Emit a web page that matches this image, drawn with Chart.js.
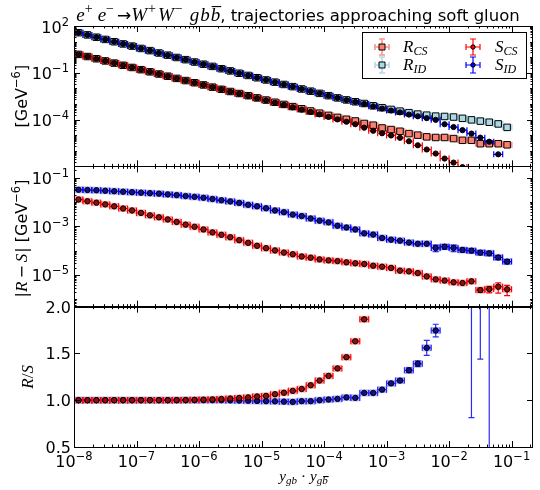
<!DOCTYPE html>
<html>
<head>
<meta charset="utf-8">
<script src="https://cdn.jsdelivr.net/npm/chart.js@4.4.0/dist/chart.umd.min.js"></script>
<style>
  html, body { margin: 0; padding: 0; background: #fff; }
</style>
</head>
<body>
<canvas id="chart" width="540" height="490"></canvas>
<script>
// y_gb * y_gbbar bins, 7 per decade
const binCenters = [
  1.18e-8, 1.64e-8, 2.28e-8, 3.16e-8, 4.39e-8, 6.11e-8, 8.48e-8,
  1.18e-7, 1.64e-7, 2.28e-7, 3.16e-7, 4.39e-7, 6.11e-7, 8.48e-7,
  1.18e-6, 1.64e-6, 2.28e-6, 3.16e-6, 4.39e-6, 6.11e-6, 8.48e-6,
  1.18e-5, 1.64e-5, 2.28e-5, 3.16e-5, 4.39e-5, 6.11e-5, 8.48e-5,
  1.18e-4, 1.64e-4, 2.28e-4, 3.16e-4, 4.39e-4, 6.11e-4, 8.48e-4,
  1.18e-3, 1.64e-3, 2.28e-3, 3.16e-3, 4.39e-3, 6.11e-3, 8.48e-3,
  1.18e-2, 1.64e-2, 2.28e-2, 3.16e-2, 4.39e-2, 6.11e-2, 8.48e-2
];
const binEdges = [
  1.00e-8, 1.39e-8, 1.93e-8, 2.68e-8, 3.73e-8, 5.18e-8, 7.20e-8,
  1.00e-7, 1.39e-7, 1.93e-7, 2.68e-7, 3.73e-7, 5.18e-7, 7.20e-7,
  1.00e-6, 1.39e-6, 1.93e-6, 2.68e-6, 3.73e-6, 5.18e-6, 7.20e-6,
  1.00e-5, 1.39e-5, 1.93e-5, 2.68e-5, 3.73e-5, 5.18e-5, 7.20e-5,
  1.00e-4, 1.39e-4, 1.93e-4, 2.68e-4, 3.73e-4, 5.18e-4, 7.20e-4,
  1.00e-3, 1.39e-3, 1.93e-3, 2.68e-3, 3.73e-3, 5.18e-3, 7.20e-3,
  1.00e-2, 1.39e-2, 1.93e-2, 2.68e-2, 3.73e-2, 5.18e-2, 7.20e-2,
  1.00e-1
];

// top panel: real (R) and subtracted (S) matrix elements [GeV^-6]
const rCsXsec = [
  1.51, 1.10, 0.794, 0.575, 0.417, 0.302, 0.219,
  0.158, 0.115, 0.0832, 0.0603, 0.0437, 0.0316, 0.0229,
  0.0166, 0.0120, 8.71e-3, 6.31e-3, 4.68e-3, 3.39e-3, 2.45e-3,
  1.78e-3, 1.29e-3, 9.33e-4, 6.76e-4, 4.90e-4, 3.55e-4, 2.57e-4,
  1.86e-4, 1.38e-4, 1.05e-4, 8.13e-5, 5.62e-5, 4.37e-5, 2.88e-5,
  2.29e-5, 1.78e-5, 1.26e-5, 1.00e-5, 7.76e-6, 7.08e-6, 7.08e-6,
  6.03e-6, 4.68e-6, 4.68e-6, 2.82e-6, 2.82e-6, 2.82e-6, 2.40e-6
];
const sCsXsec = [
  1.51, 1.10, 0.794, 0.575, 0.417, 0.302, 0.219,
  0.158, 0.115, 0.0832, 0.0603, 0.0437, 0.0316, 0.0229,
  0.0166, 0.0120, 8.71e-3, 6.17e-3, 4.57e-3, 3.31e-3, 2.34e-3,
  1.70e-3, 1.20e-3, 8.71e-4, 6.17e-4, 4.37e-4, 3.09e-4, 2.14e-4,
  1.48e-4, 1.02e-4, 7.24e-5, 5.01e-5, 3.02e-5, 1.91e-5, 1.32e-5,
  9.55e-6, 6.76e-6, 4.07e-6, 2.24e-6, 1.20e-6, 6.61e-7, 3.16e-7,
  1.74e-7, 8.91e-8, null, null, null, null, null
];
const rIdXsec = [
  37.2, 26.9, 19.1, 13.8, 9.77, 7.08, 5.13,
  3.63, 2.63, 1.86, 1.35, 0.955, 0.692, 0.490,
  0.355, 0.257, 0.182, 0.132, 0.0933, 0.0676, 0.0479,
  0.0347, 0.0251, 0.0178, 0.0129, 9.12e-3, 6.61e-3, 4.79e-3,
  3.39e-3, 2.45e-3, 1.82e-3, 1.38e-3, 1.07e-3, 7.59e-4, 5.75e-4,
  4.47e-4, 3.47e-4, 2.75e-4, 2.24e-4, 1.91e-4, 1.66e-4, 1.58e-4,
  1.45e-4, 1.20e-4, 9.55e-5, 7.94e-5, 6.76e-5, 5.25e-5, 3.16e-5
];
const sIdXsec = [
  37.2, 26.9, 19.1, 13.8, 9.77, 7.08, 5.13,
  3.63, 2.63, 1.86, 1.35, 0.955, 0.692, 0.490,
  0.355, 0.257, 0.182, 0.132, 0.0933, 0.0676, 0.0479,
  0.0347, 0.0251, 0.0178, 0.0129, 9.12e-3, 6.61e-3, 4.79e-3,
  3.39e-3, 2.45e-3, 1.78e-3, 1.35e-3, 1.00e-3, 7.08e-4, 5.13e-4,
  3.80e-4, 2.88e-4, 2.09e-4, 1.62e-4, 1.23e-4, 9.55e-5, 5.01e-5,
  3.31e-5, 2.09e-5, 1.26e-5, 6.92e-6, 3.80e-6, 5.89e-7, null
];

// middle panel: |R - S| [GeV^-6]
const diffCs = [
  1.26e-2, 1.07e-2, 9.33e-3, 7.94e-3, 6.61e-3, 5.37e-3, 4.47e-3,
  3.55e-3, 2.82e-3, 2.34e-3, 1.91e-3, 1.51e-3, 1.17e-3, 9.55e-4,
  7.41e-4, 5.62e-4, 4.47e-4, 3.55e-4, 2.69e-4, 2.09e-4, 1.58e-4,
  1.26e-4, 1.02e-4, 8.32e-5, 7.08e-5, 5.75e-5, 5.13e-5, 4.37e-5,
  3.98e-5, 3.72e-5, 3.31e-5, 3.02e-5, 2.82e-5, 2.40e-5, 2.19e-5,
  1.95e-5, 1.51e-5, 1.41e-5, 1.20e-5, 8.71e-6, 6.61e-6, 5.89e-6,
  5.01e-6, 4.68e-6, 5.50e-6, 2.40e-6, 2.63e-6, 3.31e-6, 2.57e-6
];
const diffCsErr = [
  0, 0, 0, 0, 0, 0, 0,
  0, 0, 0, 0, 0, 0, 0,
  0, 0, 0, 0, 0, 0, 0,
  0, 0, 0, 0, 0, 0, 0,
  0, 0, 0, 0, 0, 0, 0,
  0, 0, 0, 0, 0, 0, 0,
  0, 0, 0, 0.48e-6, 0.8e-6, 1.5e-6, 1.15e-6
];
const diffId = [
  3.16e-2, 3.09e-2, 3.02e-2, 2.88e-2, 2.75e-2, 2.63e-2, 2.51e-2,
  2.40e-2, 2.29e-2, 2.19e-2, 2.04e-2, 1.91e-2, 1.74e-2, 1.62e-2,
  1.48e-2, 1.32e-2, 1.17e-2, 1.05e-2, 9.12e-3, 7.59e-3, 6.61e-3,
  5.50e-3, 4.47e-3, 3.80e-3, 3.02e-3, 2.63e-3, 2.09e-3, 1.70e-3,
  1.45e-3, 1.05e-3, 8.91e-4, 7.41e-4, 5.13e-4, 4.57e-4, 3.31e-4,
  2.82e-4, 2.57e-4, 2.14e-4, 1.91e-4, 1.91e-4, 1.29e-4, 1.45e-4,
  1.29e-4, 1.07e-4, 1.00e-4, 8.32e-5, 7.76e-5, 5.25e-5, 3.55e-5
];
const diffIdErr = [
  0, 0, 0, 0, 0, 0, 0,
  0, 0, 0, 0, 0, 0, 0,
  0, 0, 0, 0, 0, 0, 0,
  0, 0, 0, 0, 0, 0, 0,
  0, 0, 0, 0, 0, 0, 0,
  0, 0, 0, 0, 0, 3.9e-5, 3.0e-5,
  3.9e-5, 2.0e-5, 2.0e-5, 1.6e-5, 1.6e-5, 1.0e-5, 0.7e-5
];

// bottom panel: R / S
const ratioCs = [
  1.000, 1.000, 1.000, 1.000, 1.000, 1.000, 1.000,
  1.000, 1.000, 1.000, 1.000, 1.001, 1.002, 1.004,
  1.006, 1.009, 1.013, 1.018, 1.024, 1.030, 1.040,
  1.046, 1.064, 1.080, 1.100, 1.120, 1.160, 1.210,
  1.260, 1.340, 1.460, 1.630, 1.865, null, null,
  null, null, null, null, null, null, null,
  null, null, null, null, null, null, null
];
const ratioCsErr = [
  0, 0, 0, 0, 0, 0, 0,
  0, 0, 0, 0, 0, 0, 0,
  0, 0, 0, 0, 0, 0, 0,
  0, 0, 0, 0, 0, 0, 0,
  0.005, 0.006, 0.008, 0.012, 0.018, 0, 0,
  0, 0, 0, 0, 0, 0, 0,
  0, 0, 0, 0, 0, 0, 0
];
const ratioId = [
  1.000, 1.000, 1.000, 1.000, 1.000, 1.000, 1.000,
  1.000, 1.000, 1.000, 1.000, 1.000, 1.000, 1.000,
  1.000, 1.000, 1.000, 0.998, 0.996, 0.994, 0.992,
  0.990, 0.988, 0.985, 0.982, 0.990, 0.990, 1.000,
  1.007, 1.014, 1.030, 1.025, 1.078, 1.078, 1.113,
  1.180, 1.210, 1.320, 1.390, 1.560, 1.745, null,
  null, null, 3.0, 2.6, 3.0, null, null
];
const ratioIdErr = [
  0, 0, 0, 0, 0, 0, 0,
  0, 0, 0, 0, 0, 0, 0,
  0, 0, 0, 0, 0, 0, 0,
  0, 0, 0, 0, 0, 0, 0,
  0, 0, 0, 0, 0, 0, 0,
  0.015, 0.018, 0.025, 0.03, 0.08, 0.067, 0,
  0, 0, 2.185, 1.16, 3.0, 0, 0
];

// tick labels
const xTickExps = [-8, -7, -6, -5, -4, -3, -2, -1];
const xsecTickExps = [2, -1, -4];
const diffTickExps = [-1, -3, -5];
const ratioTicks = ['0.5', '1.0', '1.5', '2.0'];

const SANS = '"DejaVu Sans", sans-serif';
const SERIF = '"Liberation Serif", serif';

function points(values) {
  return values.map((v, i) => ({ x: binCenters[i], y: v }));
}

function series(label, sub, values, yAxisID, style) {
  return Object.assign({
    label: label,
    legendSub: sub,
    data: points(values),
    yAxisID: yAxisID,
    pointStyle: 'circle',
    pointRadius: 2.6,
    pointBorderColor: '#000',
    pointBorderWidth: 1,
    pointHoverRadius: 0
  }, style);
}

const datasets = [
  series('S', 'CS', sCsXsec, 'yXsec', { pointBackgroundColor: '#2a0000', legendFace: '#ff0000', barColor: '#ff0000', barWidth: 1.2, legendCol: 1, legendRow: 0 }),
  series('S', 'ID', sIdXsec, 'yXsec', { pointBackgroundColor: '#00002a', legendFace: '#0000ff', barColor: '#0000ff', barWidth: 1.2, legendCol: 1, legendRow: 1 }),
  series('R', 'CS', rCsXsec, 'yXsec', { pointStyle: 'rect', pointRadius: 4.6, pointBackgroundColor: '#fa8072', barColor: 'rgba(250,128,114,0.85)', barWidth: 2, legendCol: 0, legendRow: 0 }),
  series('R', 'ID', rIdXsec, 'yXsec', { pointStyle: 'rect', pointRadius: 4.6, pointBackgroundColor: '#add8e6', barColor: 'rgba(173,216,230,0.95)', barWidth: 2, legendCol: 0, legendRow: 1 }),
  series('|R-S|', 'CS', diffCs, 'yDiff', { pointRadius: 2.7, pointBackgroundColor: '#8a1010', barColor: '#ff0000', barWidth: 1.2, boxColor: 'rgba(255,70,70,0.45)', yErr: diffCsErr }),
  series('|R-S|', 'ID', diffId, 'yDiff', { pointRadius: 2.7, pointBackgroundColor: '#10108a', barColor: '#0000ff', barWidth: 1.2, boxColor: 'rgba(80,80,255,0.45)', yErr: diffIdErr }),
  series('R/S', 'CS', ratioCs, 'yRatio', { pointRadius: 2.7, pointBackgroundColor: '#8a1010', barColor: '#ff0000', barWidth: 1.2, boxColor: 'rgba(255,70,70,0.45)', yErr: ratioCsErr }),
  series('R/S', 'ID', ratioId, 'yRatio', { pointRadius: 2.7, pointBackgroundColor: '#10108a', barColor: '#2a2aff', barWidth: 1.2, boxColor: 'rgba(80,80,255,0.45)', yErr: ratioIdErr })
];

// text with super/subscripts, drawn piece by piece
function richWidth(ctx, parts) {
  let w = 0;
  parts.forEach(p => { ctx.font = p.font; w += ctx.measureText(p.t).width + (p.gap || 0); });
  return w;
}
function drawRich(ctx, parts, x, y) {
  let cx = x;
  parts.forEach(p => {
    ctx.font = p.font;
    const w = ctx.measureText(p.t).width;
    ctx.fillText(p.t, cx, y + (p.dy || 0));
    if (p.bar) {
      ctx.fillRect(cx + 1, y + (p.dy || 0) - p.bar, w, 1.1);
    }
    cx += w + (p.gap || 0);
  });
}
function powParts(exp) {
  return [
    { t: '10', font: '16px ' + SANS },
    { t: exp < 0 ? '\u2212' + (-exp) : String(exp), font: '11.5px ' + SANS, dy: -7 }
  ];
}

// error bars: horizontal bar over the bin, vertical bar for the error
const errorBars = {
  id: 'errorBars',
  beforeDatasetsDraw(chart) {
    const ctx = chart.ctx;
    for (let di = chart.data.datasets.length - 1; di >= 0; di--) {
      const ds = chart.data.datasets[di];
      const meta = chart.getDatasetMeta(di);
      const xs = meta.xScale, ys = meta.yScale;
      ctx.save();
      ctx.beginPath();
      ctx.rect(xs.left, ys.top, xs.right - xs.left, ys.bottom - ys.top);
      ctx.clip();
      ds.data.forEach((pt, i) => {
        if (pt.y === null) return;
        const x0 = xs.getPixelForValue(binEdges[i]);
        const x1 = xs.getPixelForValue(binEdges[i + 1]);
        const xc = xs.getPixelForValue(pt.x);
        const yc = ys.getPixelForValue(pt.y);
        const e = ds.yErr ? ds.yErr[i] : 0;
        const yHi = ys.getPixelForValue(pt.y + e);
        const yLo = pt.y - e > 0 ? ys.getPixelForValue(pt.y - e) : ys.bottom + 20;
        if (ds.boxColor) {
          ctx.fillStyle = ds.boxColor;
          ctx.fillRect(x0, yc - 3.5, x1 - x0, 7);
        }
        ctx.strokeStyle = ds.barColor;
        ctx.lineWidth = ds.barWidth;
        ctx.beginPath();
        ctx.moveTo(x0, yc); ctx.lineTo(x1, yc);
        ctx.moveTo(x0, yc - 3); ctx.lineTo(x0, yc + 3);
        ctx.moveTo(x1, yc - 3); ctx.lineTo(x1, yc + 3);
        if (e > 0) {
          ctx.moveTo(xc, yHi); ctx.lineTo(xc, yLo);
          ctx.moveTo(xc - 3, yHi); ctx.lineTo(xc + 3, yHi);
          ctx.moveTo(xc - 3, yLo); ctx.lineTo(xc + 3, yLo);
        }
        ctx.stroke();
      });
      ctx.restore();
    }
  }
};

function logTickList(scale, majors) {
  const list = [];
  const lo = Math.floor(Math.log10(scale.min)), hi = Math.ceil(Math.log10(scale.max));
  for (let d = lo; d <= hi; d++) {
    list.push({ v: Math.pow(10, d), len: majors.includes(d) ? 6 : 3 });
    for (let m = 2; m <= 9; m++) list.push({ v: m * Math.pow(10, d), len: 2.5 });
  }
  return list.filter(t => t.v >= scale.min * 0.999 && t.v <= scale.max * 1.001);
}

// frames, inward ticks, tick labels, titles and legend
const axesDecor = {
  id: 'axesDecor',
  afterDraw(chart) {
    const ctx = chart.ctx;
    const xs = chart.scales.x;
    const L = xs.left, R = xs.right;
    const xTicks = logTickList(xs, xTickExps);
    const panels = [
      { scale: chart.scales.yXsec, ticks: logTickList(chart.scales.yXsec, xsecTickExps.concat([-7])) },
      { scale: chart.scales.yDiff, ticks: logTickList(chart.scales.yDiff, diffTickExps) },
      { scale: chart.scales.yRatio, ticks: ratioTicks.map(t => ({ v: parseFloat(t), len: 6 })) }
    ];
    ctx.save();
    ctx.strokeStyle = '#000';
    ctx.fillStyle = '#000';
    ctx.lineWidth = 1;
    panels.forEach(p => {
      const ys = p.scale;
      const T = ys.top, B = ys.bottom;
      ctx.strokeRect(Math.round(L) + 0.5, Math.round(T) + 0.5, Math.round(R - L) - 1, Math.round(B - T));
      ctx.beginPath();
      xTicks.forEach(t => {
        const px = Math.round(xs.getPixelForValue(t.v)) + 0.5;
        if (px < L || px > R) return;
        ctx.moveTo(px, B); ctx.lineTo(px, B - t.len);
        ctx.moveTo(px, T); ctx.lineTo(px, T + t.len);
      });
      p.ticks.forEach(t => {
        const py = Math.round(ys.getPixelForValue(t.v)) + 0.5;
        if (py < T - 0.5 || py > B + 1) return;
        ctx.moveTo(L, py); ctx.lineTo(L + t.len, py);
        ctx.moveTo(R, py); ctx.lineTo(R - t.len, py);
      });
      ctx.stroke();
    });

    // y tick labels
    ctx.textAlign = 'left';
    ctx.textBaseline = 'alphabetic';
    const yPow = (scale, exps) => exps.forEach(d => {
      const parts = powParts(d);
      const w = richWidth(ctx, parts);
      drawRich(ctx, parts, 69 - w, scale.getPixelForValue(Math.pow(10, d)) + 6.5);
    });
    yPow(chart.scales.yXsec, xsecTickExps);
    yPow(chart.scales.yDiff, diffTickExps);
    ctx.font = '16px ' + SANS;
    ratioTicks.forEach(t => {
      const w = ctx.measureText(t).width;
      ctx.fillText(t, 71 - w, chart.scales.yRatio.getPixelForValue(parseFloat(t)) + 6);
    });

    // x tick labels
    xTickExps.forEach(d => {
      const parts = powParts(d);
      const w = richWidth(ctx, parts);
      drawRich(ctx, parts, xs.getPixelForValue(Math.pow(10, d)) - w / 2, 467);
    });

    // axis titles
    const M = sz => 'italic ' + sz + 'px ' + SERIF;
    const gev = [
      { t: '[GeV', font: '16px ' + SANS },
      { t: '\u22126', font: '11.5px ' + SANS, dy: -7 },
      { t: ']', font: '16px ' + SANS }
    ];
    const vText = (parts, bx, cy) => {
      ctx.save();
      ctx.translate(bx, cy);
      ctx.rotate(-Math.PI / 2);
      drawRich(ctx, parts, -richWidth(ctx, parts) / 2, 0);
      ctx.restore();
    };
    const yX = chart.scales.yXsec, yD = chart.scales.yDiff, yR = chart.scales.yRatio;
    vText(gev, 27, (yX.top + yX.bottom) / 2);
    vText([
      { t: '|', font: '16px ' + SANS },
      { t: 'R', font: M(17), gap: 3 },
      { t: '\u2212', font: '16px ' + SANS, gap: 3 },
      { t: 'S', font: M(17), gap: 1 },
      { t: '| ', font: '16px ' + SANS }
    ].concat(gev), 27, (yD.top + yD.bottom) / 2 + 2);
    vText([
      { t: 'R', font: M(17) },
      { t: '/', font: '17px ' + SERIF },
      { t: 'S', font: M(17) }
    ], 33, (yR.top + yR.bottom) / 2);

    const xlab = [
      { t: 'y', font: M(15) },
      { t: 'gb', font: M(11), dy: 3, gap: 4 },
      { t: '\u00b7', font: '15px ' + SERIF, gap: 4 },
      { t: 'y', font: M(15) },
      { t: 'g', font: M(11), dy: 3 },
      { t: 'b', font: M(11), dy: 3, bar: 8 }
    ];
    drawRich(ctx, xlab, (L + R) / 2 - richWidth(ctx, xlab) / 2, 481);

    // title
    const sup = { font: '14px ' + SERIF, dy: -8 };
    const title = [
      { t: 'e', font: M(19) },
      Object.assign({ t: '+', gap: 5 }, sup),
      { t: 'e', font: M(19) },
      Object.assign({ t: '\u2212', gap: 3 }, sup),
      { t: '\u2192', font: '17px ' + SANS },
      { t: 'W', font: M(19), gap: 1 },
      Object.assign({ t: '+', gap: 2 }, sup),
      { t: 'W', font: M(19), gap: 1 },
      Object.assign({ t: '\u2212', gap: 7 }, sup),
      { t: 'g', font: M(19), gap: 1 },
      { t: 'b', font: M(19), gap: 1 },
      { t: 'b', font: M(19), bar: 15 },
      { t: ', trajectories approaching soft gluon', font: '16.5px ' + SANS }
    ];
    drawRich(ctx, title, 298 - richWidth(ctx, title) / 2, 21);

    // legend
    const bx = 362.5, by = 32.5, bw = 164, bh = 46;
    ctx.fillStyle = '#fff';
    ctx.fillRect(bx, by, bw, bh);
    ctx.strokeStyle = '#000';
    ctx.strokeRect(bx, by, bw, bh);
    chart.data.datasets.forEach(ds => {
      if (ds.legendCol === undefined) return;
      const mx = ds.legendCol ? 473 : 382;
      const my = ds.legendRow ? 65 : 47;
      ctx.strokeStyle = ds.barColor;
      ctx.lineWidth = ds.legendCol ? 1.2 : 1.6;
      ctx.beginPath();
      ctx.moveTo(mx - 7, my); ctx.lineTo(mx + 7, my);
      ctx.moveTo(mx - 7, my - 3); ctx.lineTo(mx - 7, my + 3);
      ctx.moveTo(mx + 7, my - 3); ctx.lineTo(mx + 7, my + 3);
      ctx.moveTo(mx, my - 8); ctx.lineTo(mx, my + 8);
      ctx.moveTo(mx - 3, my - 8); ctx.lineTo(mx + 3, my - 8);
      ctx.moveTo(mx - 3, my + 8); ctx.lineTo(mx + 3, my + 8);
      ctx.stroke();
      ctx.lineWidth = 1;
      ctx.strokeStyle = '#000';
      ctx.fillStyle = ds.legendFace || ds.pointBackgroundColor;
      ctx.beginPath();
      if (ds.pointStyle === 'rect') {
        ctx.rect(mx - 3, my - 3, 6, 6);
      } else {
        ctx.arc(mx, my, 2.2, 0, 2 * Math.PI);
      }
      ctx.fill();
      ctx.stroke();
      ctx.fillStyle = '#000';
      drawRich(ctx, [
        { t: ds.label, font: M(17) },
        { t: ds.legendSub, font: M(12), dy: 3 }
      ], ds.legendCol ? 495 : 403, my + 5);
    });
    ctx.restore();
  }
};

new Chart(document.getElementById('chart').getContext('2d'), {
  type: 'scatter',
  data: { datasets: datasets },
  options: {
    responsive: false,
    animation: false,
    events: [],
    layout: { padding: { left: 74, right: 7, top: 26, bottom: 43 } },
    plugins: {
      legend: { display: false },
      tooltip: { enabled: false },
      title: { display: false }
    },
    scales: {
      x: { type: 'logarithmic', min: 1e-8, max: 0.22, display: false },
      yRatio: { type: 'linear', min: 0.5, max: 2.0, display: false, position: 'left', stack: 'panels', stackWeight: 1 },
      yDiff: { type: 'logarithmic', min: 5e-7, max: 0.29, display: false, position: 'left', stack: 'panels', stackWeight: 1 },
      yXsec: { type: 'logarithmic', min: 1e-7, max: 100, display: false, position: 'left', stack: 'panels', stackWeight: 1 }
    }
  },
  plugins: [errorBars, axesDecor]
});
</script>
</body>
</html>
